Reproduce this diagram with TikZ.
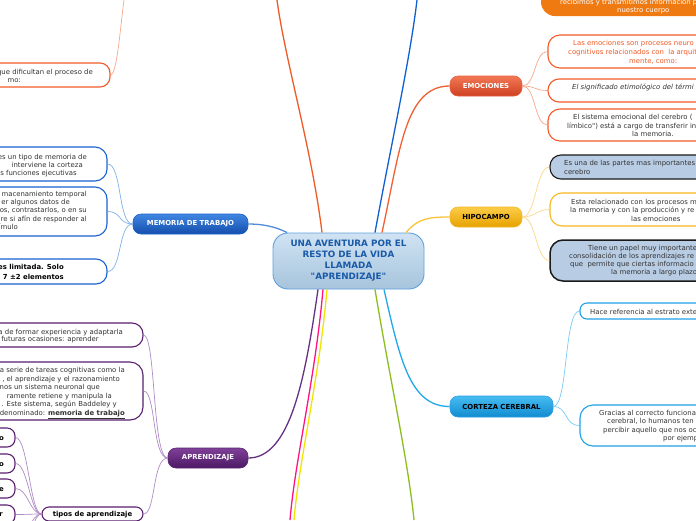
\documentclass[tikz,border=0pt]{standalone}
\usepackage{fontspec}
\setmainfont{DejaVu Sans}
\usetikzlibrary{fit}
\definecolor{tgray}{HTML}{333333}
\definecolor{cblue}{HTML}{1A5AA8}
\definecolor{corange}{HTML}{F05A28}
\definecolor{cpurple}{HTML}{5A2070}
\definecolor{cbluedark}{HTML}{1A62D0}
\definecolor{cyel}{HTML}{F8B820}
\definecolor{ccyan}{HTML}{1EA0E6}
\definecolor{hblue}{HTML}{B8CCE4}
\newcommand{\ft}{\fontsize{6.9}{8}\selectfont}
\begin{document}
\begin{tikzpicture}[x=1pt,y=-1pt,
  mainnode/.style={rounded corners=8pt, inner sep=0pt, font=\fontsize{6.9}{8}\selectfont\bfseries, text=white, line width=0.6pt},
  bx/.style={inner sep=0pt, line width=1.1pt, fill=white},
  tl/.style={inner sep=0pt, anchor=base west, font=\ft, text=tgray},
  tr/.style={inner sep=0pt, anchor=base east, font=\ft, text=tgray},
  br/.style={line width=1.3pt},
  ch/.style={line width=0.7pt}
]
\useasboundingbox (0,0) rectangle (696,520);
\clip (0,0) rectangle (696,520);
\fill[white] (0,0) rectangle (696,520);

% ---------- main nodes ----------
\node[mainnode, draw=cbluedark, top color={rgb,255:red,64;green,134;blue,226}, bottom color={rgb,255:red,20;green,78;blue,172}, minimum width=115pt, minimum height=20pt] (mem) at (190.5,224) {MEMORIA DE TRABAJO};
\node[mainnode, draw={rgb,255:red,90;green,40;blue,112}, top color={rgb,255:red,128;green,64;blue,152}, bottom color={rgb,255:red,76;green,24;blue,100}, minimum width=80pt, minimum height=20pt] (apr) at (208,458) {APRENDIZAJE};
\node[mainnode, draw={rgb,255:red,230;green,96;blue,60}, top color={rgb,255:red,242;green,120;blue,86}, bottom color={rgb,255:red,206;green,64;blue,32}, minimum width=72pt, minimum height=20pt] (emo) at (486,86) {EMOCIONES};
\node[mainnode, text=black, draw={rgb,255:red,240;green,184;blue,40}, top color={rgb,255:red,252;green,204;blue,72}, bottom color={rgb,255:red,230;green,162;blue,0}, minimum width=72pt, minimum height=20pt] (hip) at (486,217) {HIPOCAMPO};
\node[mainnode, text=black, draw={rgb,255:red,40;green,160;blue,230}, top color={rgb,255:red,72;green,188;blue,242}, bottom color={rgb,255:red,16;green,140;blue,208}, minimum width=103pt, minimum height=21pt] (cor) at (501.5,406.5) {CORTEZA CEREBRAL};
\node[rounded corners=15pt, inner sep=0pt, line width=0.9pt, draw={rgb,255:red,96;green,160;blue,220}, top color={rgb,255:red,208;green,227;blue,243}, bottom color={rgb,255:red,166;green,196;blue,220}, minimum width=151pt, minimum height=56pt, align=center, text=cblue, font=\fontsize{8.8}{11}\selectfont\bfseries] (c) at (348.5,261) {UNA AVENTURA POR EL\\RESTO DE LA VIDA\\LLAMADA\\\textquotedbl APRENDIZAJE\textquotedbl};

% ---------- free ends ----------
\coordinate (otop) at (277,0);
\coordinate (btop) at (417,0);
\coordinate (pbot) at (290,520);
\coordinate (ybot) at (294,520);
\coordinate (gbot) at (414,520);
\coordinate (tltop) at (124,0);
\coordinate (t5) at (15,541);
\coordinate (t6) at (15,567);

% ---------- branches from centre ----------
\draw[br, color={rgb,255:red,240;green,90;blue,40}] ([xshift=-26.5pt]c.north) .. controls (312,150) and (285,60) .. (otop);
\draw[br, color={rgb,255:red,16;green,96;blue,210}] ([xshift=26.5pt]c.north) .. controls (390,150) and (410,60) .. (btop);
\draw[br, color={rgb,255:red,240;green,96;blue,50}] ([xshift=33.5pt]c.north) .. controls (400,150) and (405,86) .. (emo.west);
\draw[br, color={rgb,255:red,250;green,196;blue,60}] ([xshift=57.5pt]c.north) .. controls (418,218) and (430,217) .. (hip.west);
\draw[br, color={rgb,255:red,80;green,140;blue,220}] (mem.east) .. controls (268,224) and (280,229) .. ([xshift=-61.5pt]c.north);
\draw[br, color={rgb,255:red,100;green,50;blue,130}] ([xshift=-30.5pt]c.south) .. controls (305,380) and (290,458) .. (apr.east);
\draw[br, color={rgb,255:red,255;green,20;blue,130}] ([xshift=-25.5pt]c.south) .. controls (315,380) and (295,460) .. (pbot);
\draw[br, color={rgb,255:red,240;green,228;blue,0}] ([xshift=-21.5pt]c.south) .. controls (319,380) and (299,460) .. (ybot);
\draw[br, color={rgb,255:red,140;green,190;blue,30}] ([xshift=26.5pt]c.south) .. controls (390,380) and (408,460) .. (gbot);
\draw[br, color={rgb,255:red,32;green,168;blue,232}] ([xshift=35.5pt]c.south) .. controls (400,360) and (410,406.5) .. (cor.west);

% ---------- left top orange box ----------
\node[bx, draw=corange, rounded corners=10pt, fit={(-60,63) (110,87)}] (tlb) {};
\node[tr] (tlb1) at (93,74.5) {que dificultan el proceso de};
\node[tr] (tlb2) at (21,82.5) {mo:};
\draw[ch, color={rgb,255:red,248;green,168;blue,144}] (tlb.east) .. controls (117,74) and (120,30) .. (tltop);

% ---------- memoria de trabajo boxes ----------
\node[bx, draw=cbluedark, rounded corners=12pt, fit={(-60,147) (107,181)}] (m1) {};
\node[tr] at (87,159) {es un tipo de memoria de};
\node[tr] at (83,167) {interviene la corteza};
\node[tr] at (77,175) {s funciones ejecutivas};
\node[bx, draw=cbluedark, rounded corners=12pt, fit={(-60,187) (107,236)}] (m2) {};
\node[tr] at (87,196.5) {macenamiento temporal};
\node[tr] at (70,204.5) {er algunos datos de};
\node[tr] at (87,212.5) {os, contrastarlos, o en su};
\node[tr] at (87,221) {re si afín de responder al};
\node[tr] at (18,229.5) {ímulo};
\node[bx, draw=cbluedark, rounded corners=11pt, fit={(-60,259) (107,284)}] (m3) {};
\node[tr, font=\ft\bfseries, text=black] at (64,269.5) {es limitada. Solo};
\node[tr, font=\ft\bfseries, text=black] at (64,279) {7 ±2 elementos};
\foreach \b in {m1,m2,m3}
  \draw[ch, color={rgb,255:red,128;green,176;blue,236}] (mem.west) .. controls (118,224) and (122,0|-\b.east) .. (\b.east);

% ---------- aprendizaje boxes ----------
\node[bx, draw=cpurple, rounded corners=11pt, fit={(-60,323) (143,347)}] (a1) {};
\node[tr] at (123,334.5) {a de formar experiencia y adaptarla};
\node[tr] at (99,341.5) {futuras ocasiones: aprender};
\node[bx, draw=cpurple, rounded corners=13pt, fit={(-60,362) (143,420)}] (a2) {};
\node[tr] at (125,372.5) {a serie de tareas cognitivas como la};
\node[tr] at (120,381) {, el aprendizaje y el razonamiento};
\node[tr] at (100,389.5) {nos un sistema neuronal que};
\node[tr] at (112,398) {ramente retiene y manipula la};
\node[tr] at (117,406.5) {. Este sistema, según Baddeley y};
\node[tr] at (125,415) {denominado: \textbf{\underline{memoria de trabajo}}};
\node[bx, draw=cpurple, rounded corners=7pt, fit={(42,507) (143,521)}] (tip) {};
\node[inner sep=0pt, anchor=base, font=\ft\bfseries] at (92.5,516.5) {tipos de aprendizaje};
\foreach \b in {a1,a2,tip}
  \draw[ch, color={rgb,255:red,176;green,140;blue,196}] (apr.west) .. controls (152,458) and (156,0|-\b.east) .. (\b.east);

\node[bx, draw=cpurple, rounded corners=8pt, fit={(-60,428) (15,447)}] (s1) {};
\node[tr, font=\ft\bfseries, text=black] at (4,440.5) {o};
\node[bx, draw=cpurple, rounded corners=8pt, fit={(-60,454) (15,473)}] (s2) {};
\node[tr, font=\ft\bfseries, text=black] at (4,466) {o};
\node[bx, draw=cpurple, rounded corners=8pt, fit={(-60,479) (15,498)}] (s3) {};
\node[tr, font=\ft\bfseries, text=black] at (4,491) {e};
\node[bx, draw=cpurple, rounded corners=8pt, fit={(-60,505) (15,524)}] (s4) {};
\node[tr, font=\ft\bfseries, text=black] at (3,516.5) {r};
\foreach \b in {s1,s2,s3,s4,t5,t6}
  \draw[ch, color={rgb,255:red,176;green,140;blue,196}] (tip.west) .. controls (30,514) and (28,0|-\b) .. (\b);

% ---------- top right orange box ----------
\node[inner sep=0pt, fill={rgb,255:red,239;green,122;blue,18}, rounded corners=14pt, fit={(541,-30) (760,16)}] (ob) {};
\node[tl, text=white] at (560,4) {recibimos y transmitimos información por};
\node[tl, text=white] at (617,12.5) {nuestro cuerpo};

% ---------- emociones boxes ----------
\node[bx, draw=corange, rounded corners=12pt, fit={(548,35) (760,68)}] (e1) {};
\node[tl, text=corange] at (573,45.5) {Las emociones son procesos neuro};
\node[tl, text=corange] at (568,54.5) {cognitivos relacionados con\ \ la arquit};
\node[tl, text=corange] at (629,63) {mente, como:};
\node[bx, draw=corange, rounded corners=11pt, fit={(548,79) (760,102)}] (e2) {};
\node[tl, font=\ft\itshape] at (572,89.5) {El significado etimológico del térmi};
\node[bx, draw=corange, rounded corners=12pt, fit={(548,109) (760,141)}] (e3) {};
\node[tl] at (573,119.5) {El sistema emocional del cerebro (};
\node[tl] at (567,128) {límbico\textquotedbl) está a cargo de transferir in};
\node[tl] at (632,136.5) {la memoria.};
\foreach \b in {e1,e2,e3}
  \draw[ch, color={rgb,255:red,248;green,168;blue,136}] (emo.east) .. controls (536,86) and (534,0|-\b.west) .. (\b.west);

% ---------- hipocampo boxes ----------
\node[bx, fill=hblue, draw={rgb,255:red,26;green,26;blue,26}, rounded corners=11pt, fit={(550,155) (760,179)}] (h1) {};
\node[tl] at (564,165.5) {Es una de las partes mas importantes};
\node[tl] at (564,174) {cerebro};
\node[bx, draw=cyel, rounded corners=12pt, fit={(550,193) (760,226)}] (h2) {};
\node[tl] at (571,204) {Esta relacionado con los procesos m};
\node[tl] at (570,212.5) {la memoria y con la producción y re};
\node[tl] at (631,221) {las emociones};
\node[bx, fill=hblue, line width=1.5pt, draw={rgb,255:red,26;green,26;blue,26}, rounded corners=13pt, fit={(550,240) (760,281)}] (h3) {};
\node[tl] at (588,250) {Tiene un papel muy importante};
\node[tl] at (569,258.5) {consolidación de los aprendizajes re};
\node[tl] at (570,266.5) {que\ \ permite que ciertas informacio};
\node[tl] at (611,274.5) {la memoria a largo plazo};
\foreach \b in {h1,h2,h3}
  \draw[ch, color={rgb,255:red,252;green,216;blue,138}] (hip.east) .. controls (536,217) and (536,0|-\b.west) .. (\b.west);

% ---------- corteza boxes ----------
\node[bx, draw=ccyan, rounded corners=7pt, fit={(580,303) (760,319)}] (c1) {};
\node[tl] at (590,314) {Hace referencia al estrato exte};
\node[bx, draw=ccyan, rounded corners=13pt, fit={(580,405) (760,446)}] (c2) {};
\node[tl] at (599,415.5) {Gracias al correcto funciona};
\node[tl] at (607,423.5) {cerebral, lo humanos ten};
\node[tl] at (603,432) {percibir aquello que nos oc};
\node[tl] at (663,440.5) {por ejemp};
\foreach \b in {c1,c2}
  \draw[ch, color={rgb,255:red,124;green,205;blue,242}] (cor.east) .. controls (568,406.5) and (564,0|-\b.west) .. (\b.west);
\end{tikzpicture}
\end{document}
